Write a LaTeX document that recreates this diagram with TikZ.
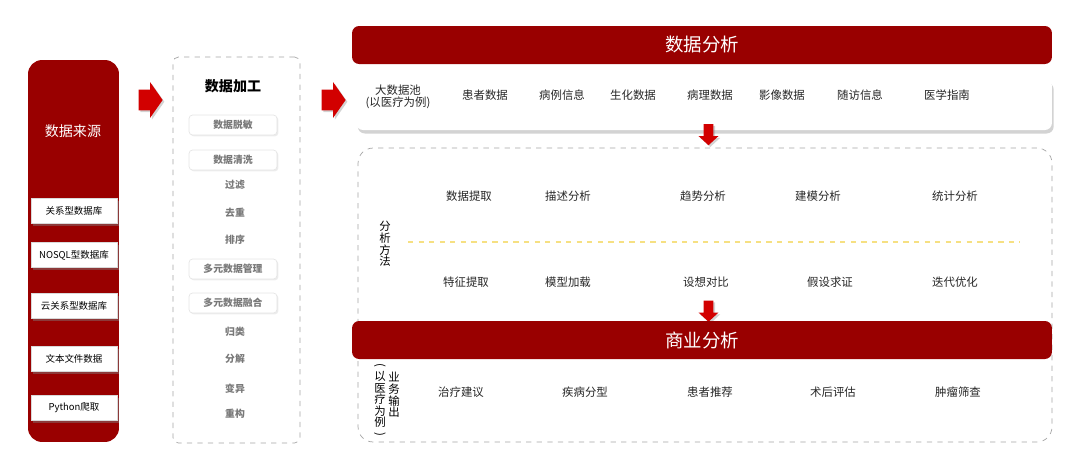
\documentclass[tikz,border=0pt]{standalone}
\usepackage{fontspec}
\setmainfont{Noto Sans CJK SC}
\usetikzlibrary{arrows.meta,positioning,shapes.arrows,shadows}

\definecolor{darkred}{RGB}{153,0,0}
\definecolor{arrowred}{RGB}{210,0,0}
\definecolor{itemgray}{RGB}{120,120,120}
\definecolor{dashgray}{RGB}{165,165,165}
\definecolor{lineyellow}{RGB}{246,224,130}

\newcommand{\vopen}{\rotatebox[origin=c]{-90}{(}}
\newcommand{\vclose}{\rotatebox[origin=c]{-90}{)}}

\begin{document}
\begin{tikzpicture}[
  x=0.02cm, y=-0.02cm,
  font=\fontsize{6.5}{7}\selectfont,
  redbar/.style={fill=darkred, text=white, inner sep=0pt},
  bartitle/.style={font=\fontsize{10.5}{12}\selectfont},
  srcbox/.style={fill=white, draw=gray!30, inner sep=0pt, minimum width=1.72cm,
                 minimum height=0.5cm, font=\fontsize{5.4}{6}\selectfont,
                 drop shadow={shadow xshift=1pt, shadow yshift=-1.5pt, opacity=0.45}},
  dashbox/.style={draw=dashgray, dashed, inner sep=0pt},
  tagbox/.style={fill=white, draw=gray!20, rounded corners=2pt, inner sep=0pt,
                 minimum width=1.76cm, minimum height=0.4cm, text=itemgray,
                 font=\bfseries\fontsize{5.6}{6}\selectfont,
                 drop shadow={shadow xshift=0.8pt, shadow yshift=-0.8pt, opacity=0.15}},
  item/.style={text=itemgray, font=\bfseries\fontsize{5.6}{6}\selectfont},
  term/.style={text=black!85},
  vtext/.style={align=center, text width=0.25cm, inner sep=0pt,
                font=\fontsize{6.5}{6.6}\selectfont},
  rarrow/.style={single arrow, fill=arrowred, inner xsep=0pt, inner ysep=0.2cm,
                 minimum height=0.48cm, minimum width=0.7cm,
                 single arrow head extend=0.15cm, single arrow tip angle=110,
                 drop shadow={shadow xshift=1pt, shadow yshift=-1pt, opacity=0.35}},
  darrow/.style={single arrow, shape border rotate=270, fill=arrowred,
                 inner xsep=0.09cm, inner ysep=0pt, minimum height=0.42cm,
                 minimum width=0.38cm, single arrow head extend=0.1cm,
                 single arrow tip angle=95,
                 drop shadow={shadow xshift=1pt, shadow yshift=-1pt, opacity=0.35}},
  sepline/.style={draw=lineyellow, dashed, thick}
]
\useasboundingbox (0,0) rectangle (1080,468);

% data sources
\node[redbar, minimum width=1.82cm, minimum height=7.64cm, rounded corners=0.28cm] (src) at (73.5,251) {};
\node[text=white, font=\fontsize{8}{9}\selectfont] (srctitle) at (73,131) {数据来源};
\foreach \y/\name/\txt in {211/rdb/关系型数据库, 255/nosql/NOSQL型数据库, 306/cloud/云关系型数据库,
                           359/file/文本文件数据, 408/py/Python爬取}
  \node[srcbox] (\name) at (74,\y) {\txt};

\node[rarrow] (arr1) at (147,100) {};

% data processing
\node[dashbox, minimum width=2.54cm, minimum height=7.72cm, rounded corners=3pt] (proc) at (236.5,250) {};
\node[font=\bfseries\fontsize{8}{9}\selectfont] (proctitle) at (233,86) {数据加工};
\foreach \y/\name/\txt in {125/mask/数据脱敏, 160/clean/数据清洗, 269/manage/多元数据管理, 303/fuse/多元数据融合}
  \node[tagbox] (\name) at (233,\y) {\txt};
\foreach \y/\name/\txt in {185/filt/过滤, 213/dedup/去重, 240/sort/排序, 332/cls/归类,
                           359/split/分解, 389/mut/变异, 414/rebuild/重构}
  \node[item] (\name) at (235,\y) {\txt};

\node[rarrow] (arr2) at (330,100) {};

% data analysis
\node[redbar, bartitle, minimum width=14cm, minimum height=0.76cm, rounded corners=4pt] (ana) at (702,45) {数据分析};
\node[fill=white, rounded corners=4pt, minimum width=13.92cm, minimum height=1.02cm,
      drop shadow={shadow xshift=1pt, shadow yshift=-2pt, opacity=0.35}] (pool) at (704,104.5) {};
\node[term, align=center] (poolname) at (398,97) {大数据池\\(以医疗为例)};
\foreach \x/\name/\txt in {485/patient/患者数据, 562/case/病例信息, 633/bio/生化数据, 710/path/病理数据,
                           782/image/影像数据, 860/follow/随访信息, 947/guide/医学指南}
  \node[term] (\name) at (\x,95) {\txt};

\node[dashbox, minimum width=13.88cm, minimum height=5.88cm, rounded corners=0.3cm] (meth) at (705,295) {};
\node[darrow] (down1) at (708.5,132.5) {};

\node[vtext] (methname) at (385,244) {分\\析\\方\\法};
\foreach \x/\name/\txt in {469/extract/数据提取, 568/describe/描述分析, 703/trend/趋势分析,
                           818/model/建模分析, 955/stat/统计分析}
  \node[term] (\name) at (\x,196) {\txt};
\coordinate (sepL) at (408,242);
\coordinate (sepR) at (1020,242);
\draw[sepline] (sepL) -- (sepR);
\foreach \x/\name/\txt in {466/feature/特征提取, 568/load/模型加载, 706/compare/设想对比,
                           830/verify/假设求证, 955/iterate/迭代优化}
  \node[term] (\name) at (\x,282) {\txt};

\node[darrow] (down2) at (708.5,309) {};

% business analysis
\node[redbar, bartitle, minimum width=14cm, minimum height=0.76cm, rounded corners=4pt] (biz) at (702,340) {商业分析};
\node[vtext, anchor=north] (bizex) at (380,363) {\vopen\\以\\医\\疗\\为\\例\\\vclose};
\node[vtext, anchor=north] (bizname) at (394,372) {业\\务\\输\\出};
\foreach \x/\name/\txt in {461/treat/治疗建议, 585/type/疾病分型, 710/recommend/患者推荐,
                           833/postop/术后评估, 958/screen/肿瘤筛查}
  \node[term] (\name) at (\x,392) {\txt};
\end{tikzpicture}
\end{document}
